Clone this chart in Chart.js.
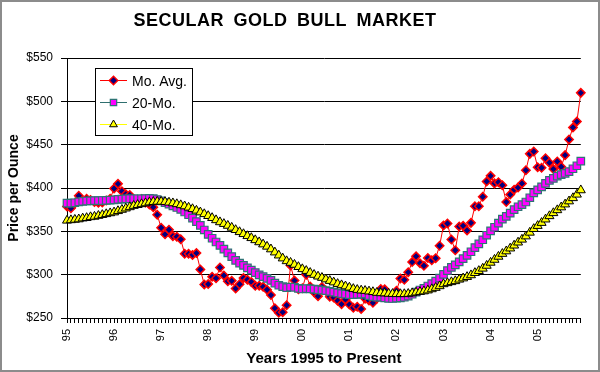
<!DOCTYPE html>
<html>
<head>
<meta charset="utf-8">
<script src="https://cdn.jsdelivr.net/npm/chart.js@4.4.1/dist/chart.umd.min.js"></script>
<style>
  html, body { margin: 0; padding: 0; background: #fff; }
  #wrap { width: 600px; height: 372px; }
</style>
</head>
<body>
<div id="wrap"><canvas id="gold-chart" width="600" height="372"></canvas></div>
<script>
const chartTitle = 'SECULAR GOLD BULL MARKET';
const xAxisTitle = 'Years 1995 to Present';
const yAxisTitle = 'Price per Ounce';
const seriesNames = ['Mo. Avg.', '20-Mo.', '40-Mo.'];
const yearLabels = ['95', '96', '97', '98', '99', '00', '01', '02', '03', '04', '05'];
const yTicks = [250, 300, 350, 400, 450, 500, 550];

// monthly average, Jan 95 .. Dec 05
const monthlyAvg = [
  378.55, 376.64, 382.12, 391.03, 385.22, 387.56, 386.23, 383.81, 383.05, 383.14, 385.49, 387.44,
  399.45, 404.76, 396.21, 392.85, 391.93, 385.27, 383.47, 387.35, 383.14, 381.07, 377.85, 369.22,
  354.11, 346.58, 351.81, 344.47, 343.84, 340.76, 324.10, 324.01, 322.82, 324.87, 306.04, 288.74,
  289.10, 297.49, 295.94, 308.29, 299.10, 292.32, 292.87, 284.11, 288.98, 296.10, 294.13, 291.62,
  287.08, 287.33, 285.96, 282.62, 276.44, 261.31, 256.08, 256.69, 264.74, 310.72, 293.18, 283.07,
  284.32, 299.86, 286.39, 279.69, 275.19, 285.73, 281.59, 274.47, 273.68, 270.00, 266.01, 271.45,
  265.49, 261.87, 263.03, 260.48, 272.36, 270.23, 267.53, 272.39, 283.42, 283.06, 276.16, 275.85,
  281.51, 295.50, 294.05, 302.68, 314.49, 321.18, 313.29, 310.25, 319.16, 316.56, 319.07, 333.37,
  356.86, 359.00, 340.55, 328.18, 355.68, 356.35, 351.02, 359.77, 378.95, 378.92, 389.91, 407.59,
  414.00, 405.33, 406.67, 403.26, 383.78, 392.37, 398.09, 400.51, 405.28, 420.46, 439.38, 442.08,
  424.03, 423.35, 434.32, 429.23, 421.87, 430.66, 424.48, 437.93, 456.05, 469.90, 476.67, 509.76
];

const avg20 = [
  382.5, 382.5, 383.0, 384.0, 384.5, 385.0, 385.2, 385.4, 385.5, 385.6, 385.8, 386.0,
  386.3, 386.8, 387.2, 387.5, 387.6, 387.6, 387.6, 387.58, 387.81, 388.03, 387.82, 386.73,
  385.17, 383.12, 381.40, 379.43, 377.47, 375.35, 372.28, 369.11, 365.28, 361.29, 356.78, 351.57,
  346.43, 342.04, 337.67, 333.71, 329.51, 325.07, 320.82, 316.57, 313.31, 310.79, 307.90, 305.26,
  302.42, 299.75, 297.85, 295.78, 293.46, 290.28, 287.78, 286.18, 284.96, 285.62, 285.48, 284.22,
  283.48, 283.86, 283.54, 283.32, 282.63, 282.11, 281.48, 280.62, 279.95, 279.09, 278.09, 277.53,
  276.98, 277.01, 277.36, 277.55, 277.93, 275.90, 274.62, 274.09, 274.04, 273.20, 272.69, 272.50,
  272.82, 273.30, 273.93, 275.34, 277.38, 279.94, 282.30, 284.24, 286.92, 289.66, 292.46, 296.11,
  300.33, 304.77, 308.42, 311.21, 314.82, 318.49, 322.23, 326.43, 331.30, 335.47, 340.26, 345.51,
  350.48, 354.69, 359.36, 364.01, 367.24, 371.03, 374.98, 378.34, 380.76, 383.83, 388.78, 394.47,
  397.89, 401.24, 405.40, 408.88, 411.02, 413.61, 415.34, 416.85, 418.96, 422.19, 425.69, 431.01
];

const avg40 = [
  362.5, 363.0, 363.5, 364.0, 365.0, 365.5, 366.5, 367.0, 368.0, 369.0, 370.0, 371.0,
  372.0, 373.5, 375.0, 376.5, 378.0, 379.5, 380.5, 381.5, 382.5, 383.5, 384.0, 384.3,
  384.3, 384.0, 383.3, 382.5, 381.5, 380.3, 379.0, 377.5, 375.8, 374.0, 372.0, 370.0,
  367.8, 365.5, 363.0, 360.65, 358.66, 356.55, 354.32, 351.65, 349.24, 346.95, 344.65, 342.35,
  339.95, 337.55, 335.06, 332.44, 329.37, 325.78, 322.28, 318.88, 315.70, 313.83, 311.57, 308.97,
  306.50, 304.47, 302.18, 299.94, 297.97, 296.45, 294.69, 292.94, 291.19, 289.42, 287.97, 286.65,
  285.22, 283.64, 282.57, 281.86, 281.44, 280.76, 280.05, 279.16, 278.76, 278.53, 278.11, 277.91,
  277.72, 277.71, 277.70, 277.98, 278.67, 279.51, 280.20, 280.89, 281.95, 283.34, 284.91, 286.83,
  289.13, 290.34, 291.52, 292.65, 294.43, 295.85, 297.46, 299.46, 302.06, 304.39, 307.09, 310.42,
  313.93, 317.31, 320.83, 324.13, 327.08, 330.35, 333.72, 337.22, 340.55, 344.30, 348.60, 352.84,
  356.36, 359.86, 363.82, 367.65, 371.16, 374.54, 377.80, 381.18, 384.72, 388.44, 392.52, 397.51
];

// one category per month, labelled with the year on January
const months = [];
yearLabels.forEach(y => {
  for (let m = 1; m <= 12; m++) months.push(y + '-' + m);
});

const FONT = '"Liberation Sans", Arial, sans-serif';
Chart.defaults.font.family = FONT;
Chart.defaults.color = '#000';

function drawMarker(ctx, style, x, y, r) {
  ctx.beginPath();
  if (style === 'rectRot') {
    ctx.moveTo(x, y - r); ctx.lineTo(x + r, y); ctx.lineTo(x, y + r); ctx.lineTo(x - r, y);
  } else if (style === 'rect') {
    const s = Math.SQRT1_2 * r;
    ctx.rect(x - s, y - s, 2 * s, 2 * s);
  } else {
    const h = r * Math.sqrt(3) / 2;
    ctx.moveTo(x, y - r); ctx.lineTo(x + h, y + r / 2); ctx.lineTo(x - h, y + r / 2);
  }
  ctx.closePath();
  ctx.fill();
  ctx.stroke();
}

const decorations = {
  id: 'decorations',
  beforeDraw(chart) {
    const ctx = chart.ctx;
    ctx.save();
    ctx.fillStyle = '#fff';
    ctx.fillRect(0, 0, chart.width, chart.height);
    ctx.restore();
  },
  afterDraw(chart) {
    const { ctx, chartArea } = chart;
    ctx.save();
    ctx.fillStyle = '#000';
    ctx.textAlign = 'center';
    ctx.textBaseline = 'alphabetic';

    ctx.font = 'bold 18px ' + FONT;
    ctx.letterSpacing = '0.5px';
    ctx.wordSpacing = '4px';
    ctx.fillText(chartTitle, 285, 26);
    ctx.letterSpacing = '0px';
    ctx.wordSpacing = '0px';

    ctx.font = 'bold 15px ' + FONT;
    ctx.fillText(xAxisTitle, (chartArea.left + chartArea.right) / 2, 363);

    ctx.save();
    ctx.translate(17.5, (chartArea.top + chartArea.bottom) / 2);
    ctx.rotate(-Math.PI / 2);
    ctx.font = 'bold 14px ' + FONT;
    ctx.fillText(yAxisTitle, 0, 0);
    ctx.restore();

    // legend box
    ctx.fillStyle = '#fff';
    ctx.fillRect(95.5, 68.5, 97, 67);
    ctx.strokeStyle = '#000';
    ctx.lineWidth = 1;
    ctx.strokeRect(95.5, 68.5, 97, 67);

    chart.data.datasets.forEach((ds, i) => {
      const y = 80.5 + 22 * i;
      ctx.strokeStyle = ds.borderColor;
      ctx.lineWidth = 1;
      ctx.beginPath();
      ctx.moveTo(100, y);
      ctx.lineTo(127, y);
      ctx.stroke();
      ctx.fillStyle = ds.pointBackgroundColor;
      ctx.strokeStyle = ds.pointBorderColor;
      ctx.lineWidth = ds.pointBorderWidth;
      drawMarker(ctx, ds.pointStyle, 113.5, y, Math.min(ds.pointRadius, 4.5));
      ctx.fillStyle = '#000';
      ctx.font = '14px ' + FONT;
      ctx.textAlign = 'left';
      ctx.fillText(ds.label, 132, y + 5);
    });

    // outer frame
    ctx.strokeStyle = '#8c8c8c';
    ctx.lineWidth = 2;
    ctx.strokeRect(1, 1, chart.width - 2, chart.height - 2);
    ctx.restore();
  }
};

new Chart(document.getElementById('gold-chart'), {
  type: 'line',
  data: {
    labels: months,
    datasets: [
      {
        label: seriesNames[0],
        data: monthlyAvg,
        borderColor: '#ff0000',
        borderWidth: 1,
        pointStyle: 'rectRot',
        pointRadius: 4.2,
        pointBackgroundColor: '#000080',
        pointBorderColor: '#ff0000',
        pointBorderWidth: 1.5,
        order: 3
      },
      {
        label: seriesNames[1],
        data: avg20,
        borderColor: '#2f6f6f',
        borderWidth: 1,
        pointStyle: 'rect',
        pointRadius: 5.3,
        pointBackgroundColor: '#ff00ff',
        pointBorderColor: '#2e7474',
        pointBorderWidth: 1.2,
        order: 2
      },
      {
        label: seriesNames[2],
        data: avg40,
        borderColor: '#ffff00',
        borderWidth: 1,
        pointStyle: 'triangle',
        pointRadius: 5.2,
        pointBackgroundColor: '#ffff00',
        pointBorderColor: '#000000',
        pointBorderWidth: 1,
        order: 1
      }
    ]
  },
  options: {
    responsive: false,
    animation: false,
    devicePixelRatio: 1,
    clip: false,
    layout: { padding: { top: 58, right: 11, bottom: 0, left: 0 } },
    plugins: {
      legend: { display: false },
      tooltip: { enabled: false },
      title: { display: false }
    },
    elements: { line: { tension: 0 } },
    scales: {
      x: {
        type: 'category',
        offset: false,
        grid: { display: true, drawOnChartArea: false, drawTicks: true, tickLength: 5, color: '#000', lineWidth: 1 },
        border: { display: true, color: '#000', width: 1 },
        ticks: {
          autoSkip: false,
          minRotation: 90,
          maxRotation: 90,
          padding: 6,
          color: '#000',
          font: { size: 11 },
          callback: (val, i) => (i % 12 === 0 ? yearLabels[i / 12] : '')
        },
        afterFit: (s) => { s.height = 54; }
      },
      y: {
        min: 250,
        max: 550,
        afterBuildTicks: (s) => { s.ticks = yTicks.map(v => ({ value: v })); },
        ticks: { color: '#000', padding: 8, font: { size: 12 }, callback: v => '$' + v },
        grid: { color: '#000', lineWidth: 1, tickLength: 6, drawTicks: true },
        border: { display: true, color: '#000', width: 1 },
        afterFit: (s) => { s.width = 67; }
      }
    }
  },
  plugins: [decorations]
});
</script>
</body>
</html>
